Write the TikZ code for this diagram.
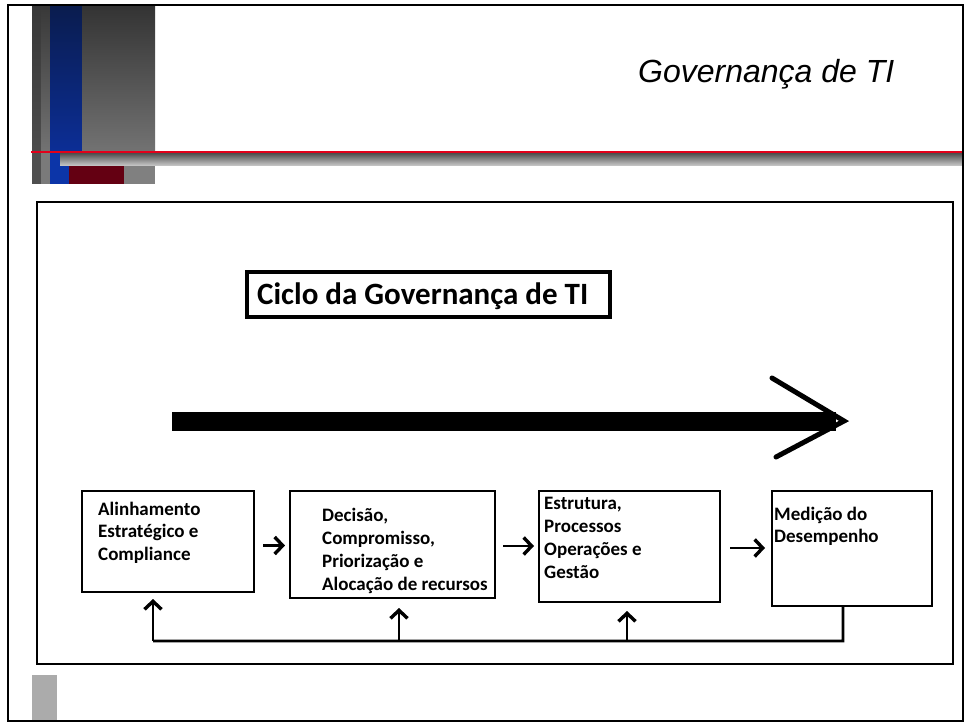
\documentclass[tikz,border=0pt]{standalone}
\usepackage{fontspec}
\setmainfont{Liberation Sans}
\newfontfamily\carlito{Carlito}
\usetikzlibrary{arrows.meta}
\definecolor{navyTop}{HTML}{0A1C4E}
\definecolor{navyBot}{HTML}{0C2E96}
\definecolor{blueLow}{HTML}{0C35A8}
\definecolor{darkRed}{HTML}{640012}
\definecolor{redLine}{HTML}{E2001A}
\tikzset{
  frame/.style={draw=black, line width=2bp},
  box/.style={draw=black, line width=2bp, fill=white, inner sep=0pt},
  boxtext/.style={font=\carlito\bfseries\fontsize{19bp}{22.7bp}\selectfont, align=left, inner sep=0pt, anchor=base west},
  flow/.style={line width=2.6bp, -{Straight Barb[length=8bp,width=17bp,line width=3.4bp]}},
  back/.style={line width=2.6bp},
}
\begin{document}
\begin{tikzpicture}[x=1bp,y=-1bp]
\useasboundingbox (0,0) rectangle (967,723);
\fill[white] (0,0) rectangle (967,723);
% header decoration
\shade[top color=black!78, bottom color=black!70] (32,5) rectangle (41,152);
\shade[top color=black!78, bottom color=black!55] (41,5) rectangle (50,152);
\shade[top color=navyTop, bottom color=navyBot] (50,5) rectangle (82,152);
\shade[top color=black!80, bottom color=black!55] (82,5) rectangle (155,152);
\fill[black!69] (32,152) rectangle (41,184);
\fill[black!52] (41,152) rectangle (50,184);
\fill[blueLow] (50,152) rectangle (69,184);
\fill[darkRed] (69,166) rectangle (124,184);
\fill[black!50] (124,166) rectangle (155,184);
\shade[top color=black!70, bottom color=black!20] (60,153) rectangle (963,166);
\draw[redLine, line width=2.2bp] (31,152) -- (963,152);
\fill[black!33] (32,675) rectangle (57,721);
% frames
\draw[frame] (8,5) rectangle (963,721);
\draw[frame] (37,202) rectangle (953,664);
% slide title
\node[font=\itshape\fontsize{32bp}{38bp}\selectfont, anchor=base west, inner sep=0pt] (title) at (638,83) {Governança de TI};
% cycle title
\node[draw=black, line width=3.5bp, minimum width=363bp, minimum height=45bp, inner sep=0pt] (cyc) at (428.5,294.5) {};
\node[font=\carlito\bfseries\fontsize{31bp}{36bp}\selectfont, anchor=base west, inner sep=0pt] (cyctext) at (257,304) {Ciclo da Governança de TI};
% big arrow
\coordinate (barL) at (172,421);
\coordinate (barR) at (836,421);
\coordinate (tip) at (844,421);
\coordinate (hu) at (772,378);
\coordinate (hd) at (776,457);
\draw[line width=19bp] (barL) -- (barR);
\draw[line width=5bp, line cap=round, line join=miter] (hu) -- (tip) -- (hd);
% boxes
\node[box, minimum width=172bp, minimum height=101bp] (b1) at (168,541.5) {};
\node[box, minimum width=205bp, minimum height=107bp] (b2) at (392.5,544.5) {};
\node[box, minimum width=181bp, minimum height=111bp] (b3) at (629.5,546.5) {};
\node[box, minimum width=160bp, minimum height=115bp] (b4) at (852,548.5) {};
\node[boxtext] (t1) at (98,560.4) {Alinhamento\\Estratégico e\\Compliance};
\node[boxtext] (t2) at (322,590) {Decisão,\\Compromisso,\\Priorização e\\Alocação de recursos};
\node[boxtext] (t3) at (544,578) {Estrutura,\\Processos\\Operações e\\Gestão};
\node[boxtext] (t4) at (774,542.7) {Medição do\\Desempenho};
% forward arrows
\draw[flow] ([xshift=8bp,yshift=-4bp]b1.east) -- ([xshift=-4bp,yshift=-4bp]b1.east -| b2.west);
\draw[flow] ([xshift=7bp]b2.east |- 0,546) -- ([xshift=-4bp]b3.west |- 0,546);
\draw[flow] ([xshift=9bp]b3.east |- 0,548) -- ([xshift=-6bp]b4.west |- 0,548);
% feedback
\coordinate (f4) at ([xshift=-9bp]b4.south);
\coordinate (fr) at (843,641);
\coordinate (fl) at (153,641);
\coordinate (f2) at (399,641);
\coordinate (f3) at (627,641);
\draw[back, line join=miter] (f4) -- (fr) -- (fl);
\draw[flow] (fl) -- ([yshift=-6bp]fl |- b1.south);
\draw[flow] (f2) -- ([yshift=-9bp]f2 |- b2.south);
\draw[flow] (f3) -- ([yshift=-8bp]f3 |- b3.south);
\end{tikzpicture}
\end{document}
